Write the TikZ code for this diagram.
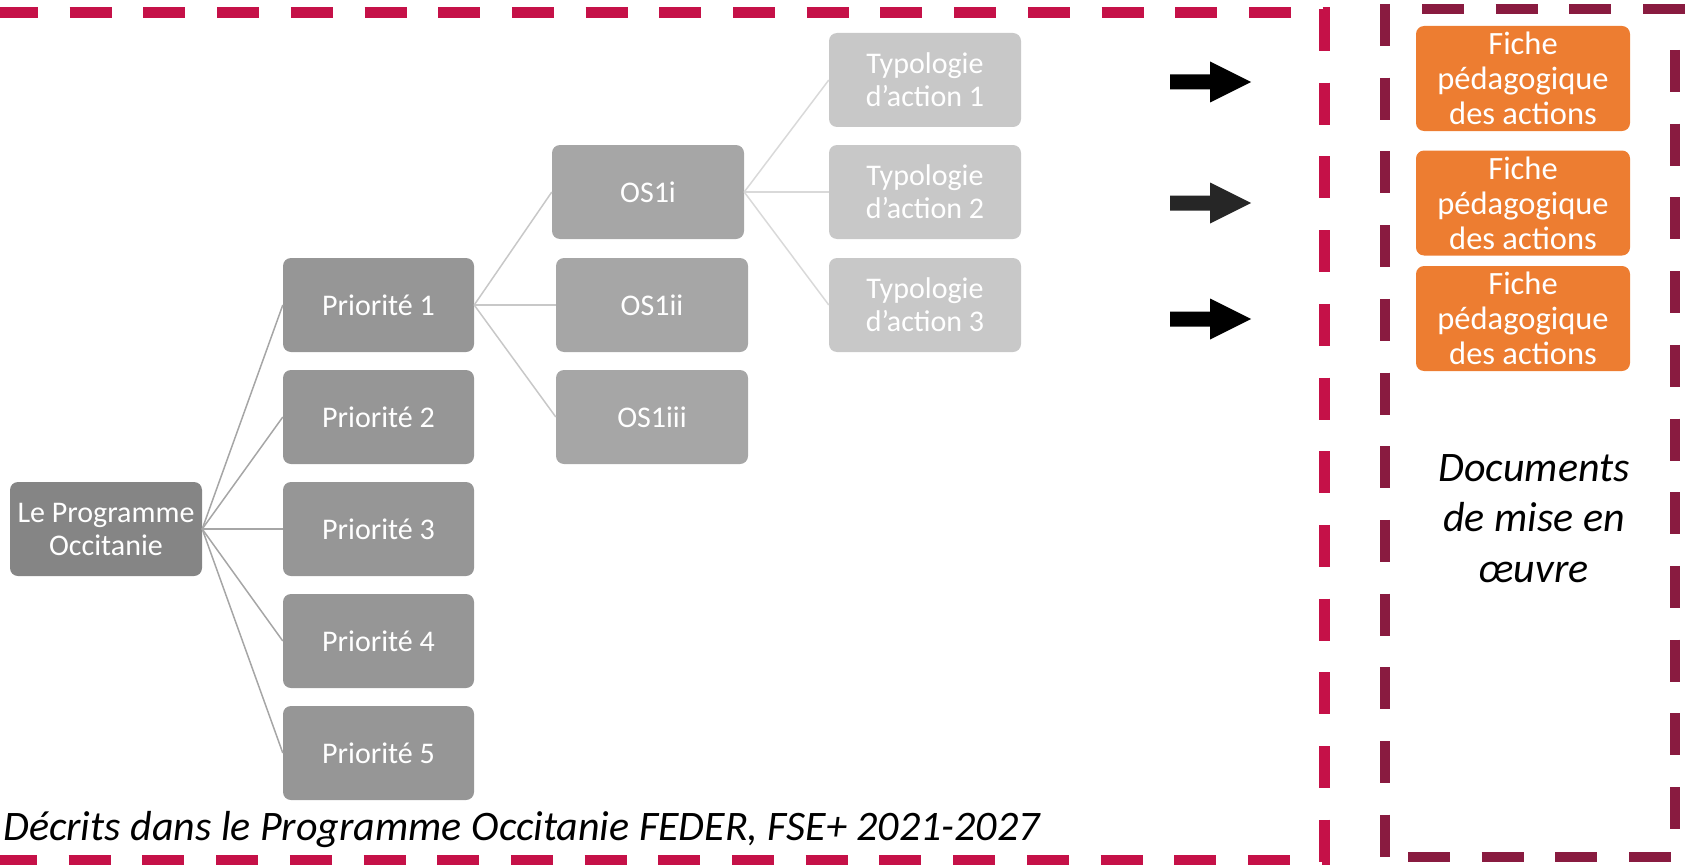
\documentclass[tikz,border=0pt]{standalone}
\usepackage{fontspec}
\setmainfont{Carlito}
\definecolor{reddash}{RGB}{197,17,72}
\definecolor{maroondash}{RGB}{137,27,64}
\definecolor{lpgray}{RGB}{133,133,133}
\definecolor{priogray}{RGB}{150,150,150}
\definecolor{osgray}{RGB}{166,166,166}
\definecolor{typgray}{RGB}{200,200,200}
\definecolor{fiche}{RGB}{237,125,49}
\begin{document}
\begin{tikzpicture}[x=1pt,y=-1pt,
  box/.style={rounded corners=8pt, inner sep=0pt, text=white, align=center,
    font=\fontsize{30}{33}\selectfont, minimum width=192pt, minimum height=94pt},
  fichebox/.style={box, fill=fiche, minimum width=214pt, minimum height=105pt,
    font=\fontsize{32.5}{35}\selectfont},
  link1/.style={draw=osgray, line width=1.5pt},
  link2/.style={draw=typgray, line width=1.5pt},
  link3/.style={draw=black!15, line width=1.5pt},
  reddashed/.style={draw=reddash, line width=11pt, dash pattern=on 42pt off 31.7pt},
  maroondashed/.style={draw=maroondash, line width=10pt, dash pattern=on 42pt off 31.7pt}
]
\useasboundingbox (0,0) rectangle (1685,864);

% dashed frames
\draw[reddashed] (-4,12.5) -- (1330,12.5);
\draw[reddashed] (1324.5,9) -- (1324.5,880);
\draw[reddashed] (-5,860) -- (1330,860);
\draw[maroondashed] (1385,4) -- (1385,880);
\draw[maroondashed] (1422,9) -- (1700,9);
\draw[maroondashed] (1675,50) -- (1675,840);
\draw[maroondashed] (1408,857) -- (1700,857);

% hierarchy
\node[box, fill=lpgray] (lp) at (106,529) {Le Programme\\Occitanie};
\node[box, fill=priogray, minimum width=191pt] (p1) at (378.5,305) {Priorité 1};
\node[box, fill=priogray, minimum width=191pt] (p2) at (378.5,417) {Priorité 2};
\node[box, fill=priogray, minimum width=191pt] (p3) at (378.5,529) {Priorité 3};
\node[box, fill=priogray, minimum width=191pt] (p4) at (378.5,641) {Priorité 4};
\node[box, fill=priogray, minimum width=191pt] (p5) at (378.5,753) {Priorité 5};
\node[box, fill=osgray] (os1) at (648,192) {OS1i};
\node[box, fill=osgray] (os2) at (652,305) {OS1ii};
\node[box, fill=osgray] (os3) at (652,417) {OS1iii};
\node[box, fill=typgray] (t1) at (925,80) {Typologie\\d’action 1};
\node[box, fill=typgray] (t2) at (925,192) {Typologie\\d’action 2};
\node[box, fill=typgray] (t3) at (925,305) {Typologie\\d’action 3};

\foreach \c in {p1,p2,p3,p4,p5} \draw[link1] (lp.east) -- (\c.west);
\foreach \c in {os1,os2,os3} \draw[link2] (p1.east) -- (\c.west);
\foreach \c in {t1,t2,t3} \draw[link3] (os1.east) -- (\c.west);

% block arrows
\fill[black] (1170,74.5) -- (1210,74.5) -- (1210,61.5) -- (1251,82) -- (1210,102.5) -- (1210,89.5) -- (1170,89.5) -- cycle;
\fill[black!85] (1170,195.5) -- (1210,195.5) -- (1210,182.5) -- (1251,203) -- (1210,223.5) -- (1210,210.5) -- (1170,210.5) -- cycle;
\fill[black] (1170,311.5) -- (1210,311.5) -- (1210,298.5) -- (1251,319) -- (1210,339.5) -- (1210,326.5) -- (1170,326.5) -- cycle;

% fiches
\node[fichebox] (f1) at (1523,78.5) {Fiche\\pédagogique\\des actions};
\node[fichebox] (f2) at (1523,203) {Fiche\\pédagogique\\des actions};
\node[fichebox] (f3) at (1523,318.5) {Fiche\\pédagogique\\des actions};

\node[align=center, inner sep=0pt, font=\fontsize{42}{50.5}\selectfont\itshape] (docs) at (1534,518.5) {Documents\\de mise en\\œuvre};

\node[anchor=base west, inner sep=0pt, font=\fontsize{42}{48}\selectfont\itshape] (desc) at (3,840) {Décrits dans le Programme Occitanie FEDER, FSE+ 2021-2027};
\end{tikzpicture}
\end{document}
